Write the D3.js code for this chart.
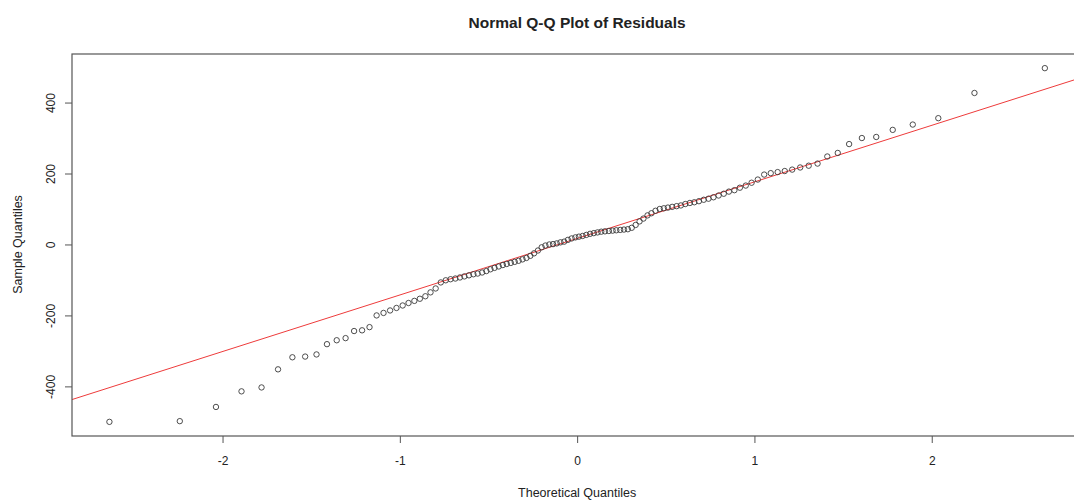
<!DOCTYPE html>
<html>
<head>
<meta charset="utf-8">
<script src="https://cdn.jsdelivr.net/npm/d3@7"></script>
<style>
  body { margin: 0; background: #fff; }
  text { font-family: "Liberation Sans", Arial, sans-serif; fill: #222; }
</style>
</head>
<body>
<div id="chart-container"></div>
<script>
// Step 1: values
var theoretical = [
  -2.638, -2.241, -2.037, -1.893, -1.780, -1.687, -1.606, -1.534, -1.470, -1.411,
  -1.356, -1.306, -1.258, -1.213, -1.171, -1.131, -1.092, -1.055, -1.019, -0.984,
  -0.951, -0.918, -0.887, -0.856, -0.827, -0.798, -0.769, -0.741, -0.714, -0.687,
  -0.661, -0.636, -0.610, -0.585, -0.561, -0.536, -0.512, -0.489, -0.466, -0.442,
  -0.419, -0.397, -0.374, -0.352, -0.330, -0.308, -0.286, -0.264, -0.243, -0.221,
  -0.200, -0.179, -0.157, -0.136, -0.115, -0.094, -0.073, -0.052, -0.031, -0.010,
  0.010, 0.031, 0.052, 0.073, 0.094, 0.115, 0.136, 0.157, 0.179, 0.200,
  0.221, 0.243, 0.264, 0.286, 0.308, 0.330, 0.352, 0.374, 0.397, 0.419,
  0.442, 0.466, 0.489, 0.512, 0.536, 0.561, 0.585, 0.610, 0.636, 0.661,
  0.687, 0.714, 0.741, 0.769, 0.798, 0.827, 0.856, 0.887, 0.918, 0.951,
  0.984, 1.019, 1.055, 1.092, 1.131, 1.171, 1.213, 1.258, 1.306, 1.356,
  1.411, 1.470, 1.534, 1.606, 1.687, 1.780, 1.893, 2.037, 2.241, 2.638
];

var sample = [
  -500, -498, -458, -414, -403, -352, -318, -316, -310, -281,
  -270, -264, -244, -242, -233, -200, -193, -186, -179, -172,
  -165, -159, -153, -146, -135, -124, -107, -101, -98, -96,
  -93, -90, -87, -84, -82, -79, -75, -70, -66, -62,
  -58, -55, -52, -49, -46, -42, -38, -32, -25, -17,
  -8, -3, 0, 1, 3, 6, 8, 13, 17, 20,
  22, 24, 27, 30, 32, 34, 36, 37, 38, 39,
  40, 41, 42, 43, 47, 55, 65, 73, 82, 88,
  95, 100, 102, 104, 106, 108, 110, 114, 117, 119,
  122, 126, 129, 133, 138, 143, 149, 153, 160, 166,
  174, 183, 197, 201, 204, 207, 211, 217, 222, 228,
  248, 258, 283, 300, 303, 323, 338, 356, 427, 497
];

// reference line (qqline): intercept and slope
var lineIntercept = 17;
var lineSlope = 159.4;

var xTicks = [-2, -1, 0, 1, 2];
var yTicks = [-400, -200, 0, 200, 400];

var title = "Normal Q-Q Plot of Residuals";
var xLabel = "Theoretical Quantiles";
var yLabel = "Sample Quantiles";

var puntos = theoretical.map(function(t, i) { return { x: t, y: sample[i] }; });

// Step 2: dimensions
var width = 1074;
var height = 502;
var margin = { top: 54, bottom: 66, left: 72 };
var unitX = 177.3; // pixels per theoretical unit

// R style 4% padding on the ranges
function pad(ext) {
  var d = (ext[1] - ext[0]) * 0.04;
  return [ext[0] - d, ext[1] + d];
}
var xDom = pad(d3.extent(theoretical));
var yDom = pad(d3.extent(sample));

var x = d3.scaleLinear()
    .domain(xDom)
    .range([margin.left, margin.left + (xDom[1] - xDom[0]) * unitX]);

var y = d3.scaleLinear()
    .domain(yDom)
    .range([height - margin.bottom, margin.top]);

// Step 3: svg
var svg = d3.select("#chart-container").append("svg")
    .attr("width", width)
    .attr("height", height);

// Step 4: reference line
svg.append("line")
    .attr("x1", x(xDom[0]))
    .attr("x2", x(xDom[1]))
    .attr("y1", y(lineIntercept + lineSlope * xDom[0]))
    .attr("y2", y(lineIntercept + lineSlope * xDom[1]))
    .attr("stroke", "#ee3b3b")
    .attr("stroke-width", 1);

// Step 5: points
svg.selectAll("circle.punto").data(puntos).enter()
    .append("circle")
    .attr("class", "punto")
    .attr("cx", function(d) { return x(d.x); })
    .attr("cy", function(d) { return y(d.y); })
    .attr("r", 2.7)
    .attr("fill", "none")
    .attr("stroke", "#3a3a3a")
    .attr("stroke-width", 0.9);

// Step 6: box and axes
svg.append("rect")
    .attr("x", x(xDom[0]))
    .attr("y", y(yDom[1]))
    .attr("width", x(xDom[1]) - x(xDom[0]))
    .attr("height", y(yDom[0]) - y(yDom[1]))
    .attr("fill", "none")
    .attr("stroke", "#555")
    .attr("stroke-width", 1.2);

// R prints a plain hyphen for negatives
var fmt = function(d) { return String(d); };

var xAxis = d3.axisBottom(x)
    .tickValues(xTicks)
    .tickSize(7)
    .tickPadding(13)
    .tickFormat(fmt);

var yAxis = d3.axisLeft(y)
    .tickValues(yTicks)
    .tickSize(7)
    .tickFormat(fmt);

var gx = svg.append("g")
    .attr("transform", "translate(0," + y(yDom[0]) + ")")
    .call(xAxis);

var gy = svg.append("g")
    .attr("transform", "translate(" + x(xDom[0]) + ",0)")
    .call(yAxis);

gx.select(".domain").remove();
gy.select(".domain").remove();
svg.selectAll(".tick line").attr("stroke", "#555");
svg.selectAll(".tick text")
    .style("font-size", "12px")
    .style("font-family", "'Liberation Sans', Arial, sans-serif")
    .attr("fill", "#333");

// rotated y tick labels, like R
gy.selectAll(".tick text")
    .attr("x", 0)
    .attr("dy", 0)
    .attr("transform", "translate(-21,0) rotate(-90)")
    .attr("text-anchor", "middle")
    .attr("dominant-baseline", "central");

// Step 7: titles
svg.append("text")
    .attr("x", x(0))
    .attr("y", 28)
    .attr("text-anchor", "middle")
    .style("font-size", "15.5px")
    .style("font-weight", "bold")
    .text(title);

svg.append("text")
    .attr("x", x(0))
    .attr("y", 497)
    .attr("text-anchor", "middle")
    .style("font-size", "12.5px")
    .attr("fill", "#333")
    .text(xLabel);

svg.append("text")
    .attr("transform", "translate(22," + y(0) + ") rotate(-90)")
    .attr("text-anchor", "middle")
    .style("font-size", "12.5px")
    .attr("fill", "#333")
    .text(yLabel);
</script>
</body>
</html>
